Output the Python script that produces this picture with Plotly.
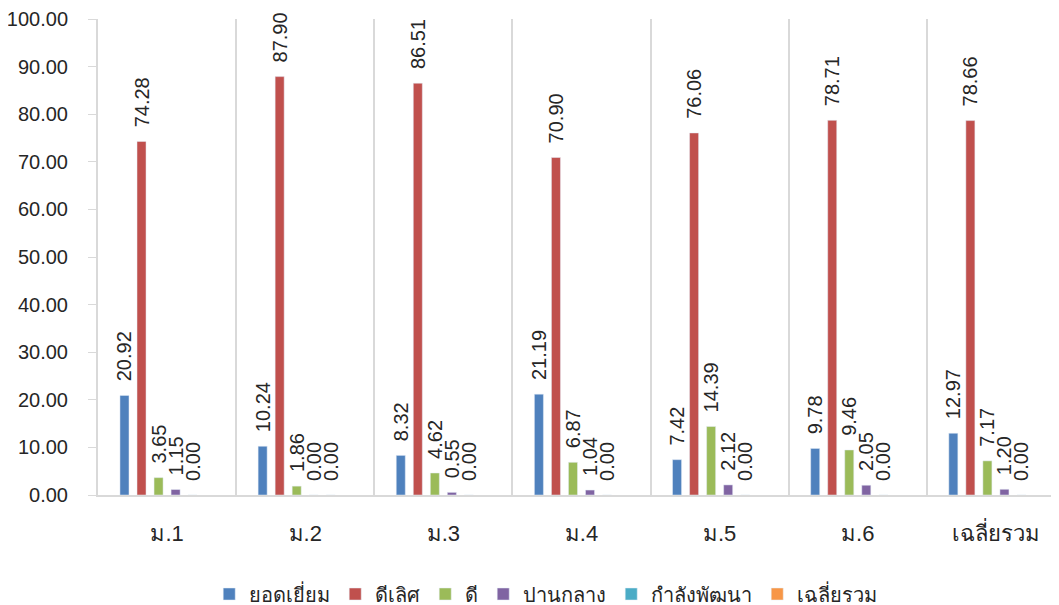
import plotly.graph_objects as go

categories = ['ม.1', 'ม.2', 'ม.3', 'ม.4', 'ม.5', 'ม.6', 'เฉลี่ยรวม']

series_names = ['ยอดเยี่ยม', 'ดีเลิศ', 'ดี', 'ปานกลาง', 'กำลังพัฒนา', 'เฉลี่ยรวม']
excellent = [20.92, 10.24, 8.32, 21.19, 7.42, 9.78, 12.97]
very_good = [74.28, 87.90, 86.51, 70.90, 76.06, 78.71, 78.66]
good = [3.65, 1.86, 4.62, 6.87, 14.39, 9.46, 7.17]
fair = [1.15, 0.00, 0.55, 1.04, 2.12, 2.05, 1.20]
developing = [0.00, 0.00, 0.00, 0.00, 0.00, 0.00, 0.00]
average = [None, None, None, None, None, None, None]

colors = ['#4f81bd', '#c0504d', '#9bbb59', '#8064a2', '#4bacc6', '#f79646']
values = [excellent, very_good, good, fair, developing, average]

font_family = "'Liberation Sans', Arial, sans-serif"
pad = '\u00a0\u00a0'  # gap between bar top and rotated label

fig = go.Figure()
for name, vals, col in zip(series_names, values, colors):
    fig.add_trace(go.Bar(
        x=categories, y=vals, name=name, marker_color=col,
        text=[None if v is None else pad + f'{v:.2f}' for v in vals],
        textposition='outside', textangle=-90, constraintext='none',
        cliponaxis=False,
        textfont=dict(size=20, color='#262626', family=font_family),
    ))

# page body has an 8px margin; the plot area runs slightly past the right edge like the original
fig.update_layout(
    width=1065, height=597,
    barmode='group', bargap=0.26, bargroupgap=0.47,
    plot_bgcolor='white', paper_bgcolor='white',
    margin=dict(l=90, r=8, t=11, b=110, autoexpand=False),
    font=dict(family=font_family, size=20, color='#262626'),
    legend=dict(orientation='h', x=0.463, xanchor='center',
                y=-0.208, yanchor='middle', font=dict(size=20), traceorder='normal'),
)
fig.update_xaxes(
    type='category', tickson='boundaries', showgrid=True, gridcolor='#d9d9d9', gridwidth=2,
    showline=True, linecolor='#d9d9d9', linewidth=2, ticks='', tickfont=dict(size=22),
    ticklabelstandoff=18, automargin=False,
)
fig.update_yaxes(
    range=[0, 100], dtick=10, tickformat='.2f', showgrid=False, zeroline=False,
    showline=True, linecolor='#d9d9d9', linewidth=2, ticks='outside', ticklen=8,
    tickcolor='#d9d9d9', tickfont=dict(size=20), ticklabelstandoff=16, automargin=False,
)

fig.write_html("out.html")
